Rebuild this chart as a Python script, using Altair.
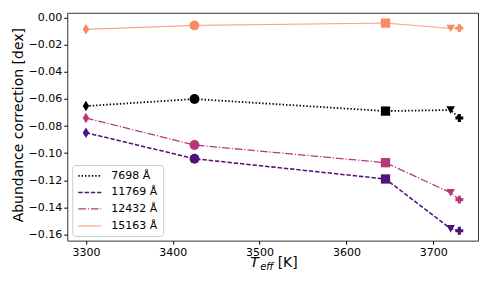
import altair as alt
import pandas as pd

temps = [3300, 3425, 3645, 3720, 3730]
series = ["7698 Å", "11769 Å", "12432 Å", "15163 Å"]
v7698 = [-0.0653, -0.0601, -0.0690, -0.0682, -0.0741]
v11769 = [-0.0849, -0.1041, -0.1190, -0.1556, -0.1571]
v12432 = [-0.0741, -0.0940, -0.1070, -0.1291, -0.1342]
v15163 = [-0.0088, -0.0059, -0.0042, -0.0081, -0.0079]
colors = ["#000000", "#51127c", "#b73779", "#fc8961"]
dashes = [[1.4, 2.0], [4.4, 1.9], [7.7, 1.9, 1.2, 1.9], [1, 0]]
widths = [1.8, 1.0, 1.2, 1.2]
point_ids = ["p0", "p1", "p2", "p3", "p4"]
shapes = ["M0,-1L0.62,0L0,1L-0.62,0Z", "circle", "square", "triangle-down", "cross"]
yticks = [-0.16, -0.14, -0.12, -0.10, -0.08, -0.06, -0.04, -0.02, 0.0]
xticks = [3300, 3400, 3500, 3600, 3700]

FONT = "DejaVu Sans"

rows = []
for s, vals in zip(series, [v7698, v11769, v12432, v15163]):
    for i, (t, v) in enumerate(zip(temps, vals)):
        rows.append({"series": s, "T": t, "val": v, "pt": point_ids[i], "order": i})
df = pd.DataFrame(rows)

W, H = 411, 228
xscale = alt.Scale(domain=[3278.5, 3751.5], nice=False, zero=False)
yscale = alt.Scale(domain=[-0.1644, 0.0034], nice=False, zero=False)

xaxis = alt.Axis(values=xticks, title=None, grid=False, domain=False, tickSize=3.5,
                 tickColor="black", labelFontSize=11, labelColor="black", labelFont=FONT,
                 labelPadding=2, format="d", labelOverlap=False, labelFlush=False)
yaxis = alt.Axis(values=yticks, title="Abundance correction [dex]", grid=False, domain=False,
                 tickSize=3.5, tickColor="black", labelFontSize=11, labelColor="black",
                 labelFont=FONT, labelPadding=2, format=".2f", labelOverlap=False,
                 labelFlush=False, titleFont=FONT, titleFontSize=14,
                 titleFontWeight="normal", titleColor="black", titleX=-49, titleY=112,
                 titleAngle=-90, titleBaseline="middle", titleAlign="center")

base = alt.Chart(df)

leg = alt.Legend(orient="none", legendX=5.0, legendY=152.3, title=None,
                 fillColor="white", strokeColor="#cccccc", cornerRadius=3, padding=5,
                 labelFontSize=11, labelFont=FONT, labelColor="black",
                 symbolType="M-1,0L3.6,0", symbolFillColor="transparent",
                 symbolSize=100, symbolStrokeWidth=1.3, rowPadding=5.5, labelOffset=22)

X = alt.X("T:Q", scale=xscale, axis=xaxis)
Y = alt.Y("val:Q", scale=yscale, axis=yaxis)

lines = base.mark_line().encode(
    x=X,
    y=Y,
    color=alt.Color("series:N", scale=alt.Scale(domain=series, range=colors), legend=leg),
    strokeDash=alt.StrokeDash("series:N", scale=alt.Scale(domain=series, range=dashes),
                              legend=leg),
    strokeWidth=alt.StrokeWidth("series:N", scale=alt.Scale(domain=series, range=widths),
                                legend=None),
    order="order:Q",
)

points = base.mark_point(filled=True, opacity=1).encode(
    x=X,
    y=Y,
    fill=alt.Fill("series:N", scale=alt.Scale(domain=series, range=colors), legend=None),
    shape=alt.Shape("pt:N", scale=alt.Scale(domain=point_ids, range=shapes), legend=None),
    size=alt.Size("pt:N", scale=alt.Scale(domain=point_ids, range=[110, 62, 75, 75, 80]),
                  legend=None),
)

def label(txt, x, y, size, style="normal"):
    return alt.Chart(pd.DataFrame({"t": [txt]})).mark_text(
        align="left", baseline="alphabetic", fontSize=size, fontStyle=style,
        color="black", font=FONT
    ).encode(text="t:N", x=alt.value(x), y=alt.value(y))

xtitle = label("T", 183, 254.6, 14, "italic") + label("eff", 193, 257, 10, "italic") + \
    label("[K]", 210.5, 254.6, 14)

chart = alt.layer(lines, points, xtitle).properties(
    width=W, height=H,
    autosize=alt.AutoSizeParams(type="none"),
    padding={"left": 59.3, "top": 4.7, "right": 5, "bottom": 30},
).configure(font=FONT).configure_view(stroke="#333333", strokeWidth=1)

chart.save("out.html", embed_options={"renderer": "svg", "actions": False})
